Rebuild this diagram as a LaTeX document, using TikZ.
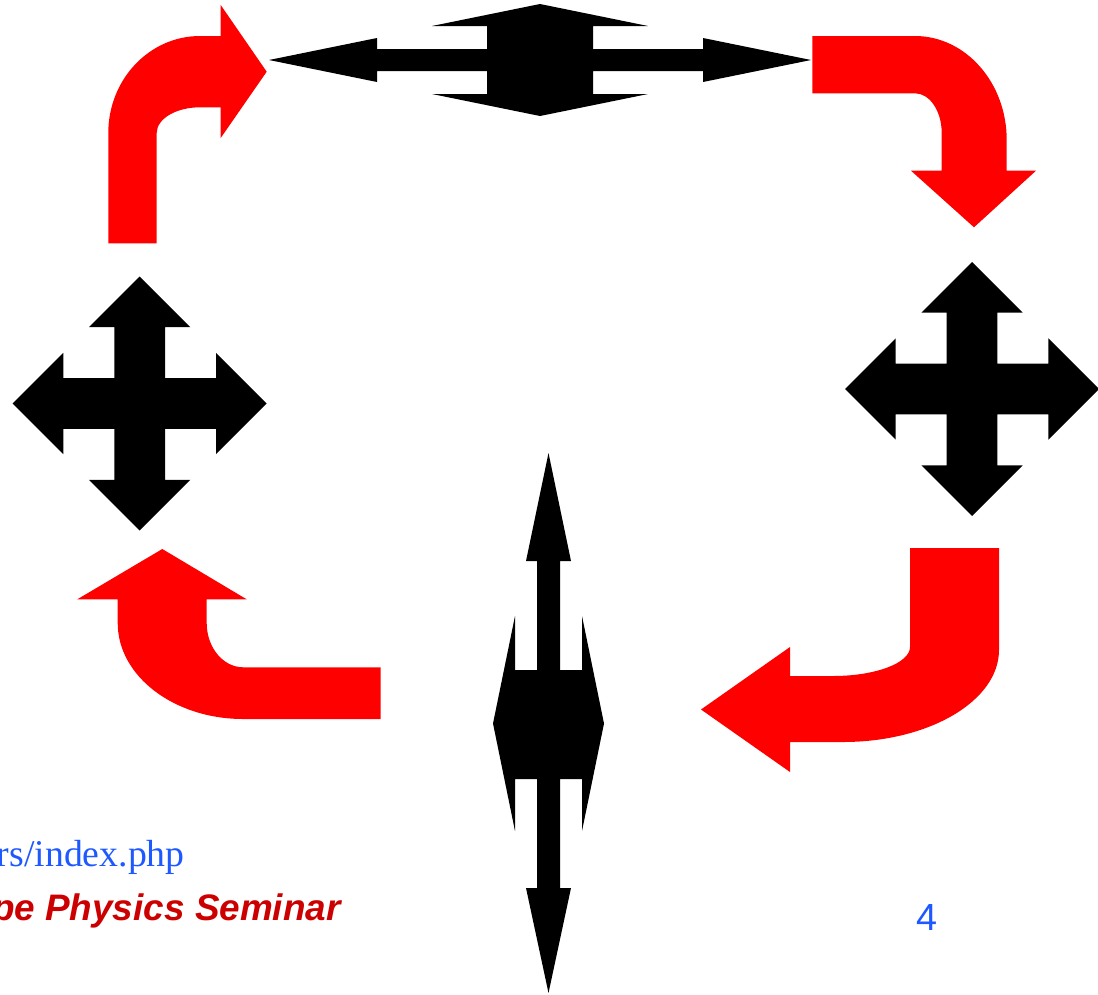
\documentclass[tikz,border=0pt]{standalone}
\usepackage{fontspec}
\setmainfont{Liberation Serif}
\setsansfont{Liberation Sans}
\definecolor{arrowred}{RGB}{255,0,0}
\definecolor{textred}{RGB}{204,0,0}
\definecolor{textblue}{RGB}{30,88,255}
\tikzset{
  redarrow/.style={fill=arrowred, draw=none},
  blackarrow/.style={fill=black, draw=none},
  fourway/.pic={
    \fill[black] (0,-127) -- (50.7,-76.3) -- (25.3,-76.3) -- (25.3,-25.3) -- (76.3,-25.3) -- (76.3,-50.7)
      -- (127,0) -- (76.3,50.7) -- (76.3,25.3) -- (25.3,25.3) -- (25.3,76.3) -- (50.7,76.3)
      -- (0,127) -- (-50.7,76.3) -- (-25.3,76.3) -- (-25.3,25.3) -- (-76.3,25.3) -- (-76.3,50.7)
      -- (-127,0) -- (-76.3,-50.7) -- (-76.3,-25.3) -- (-25.3,-25.3) -- (-25.3,-76.3) -- (-50.7,-76.3) -- cycle;
  },
  txt/.style={inner sep=0pt}
}
\begin{document}
\begin{tikzpicture}[x=0.02cm, y=-0.02cm]
\useasboundingbox (0,0) rectangle (1098,994);
\clip (0,0) rectangle (1098,994);

% top horizontal double arrow
\fill[blackarrow] (269,60) -- (377,38) -- (377,49) -- (487,49) -- (487,26) -- (432,26) -- (540,4)
  -- (648,26) -- (593,26) -- (593,49) -- (703,49) -- (703,38) -- (811,60) -- (703,82) -- (703,71)
  -- (593,71) -- (593,94) -- (648,94) -- (540,116) -- (432,94) -- (487,94) -- (487,71) -- (377,71)
  -- (377,82) -- cycle;

% bottom vertical double arrow
\fill[blackarrow] (548.5,453) -- (571,561) -- (560,561) -- (560,670) -- (582,670) -- (582,616)
  -- (604,723.5) -- (582,831) -- (582,779) -- (560,779) -- (560,888) -- (571,888) -- (548.5,993)
  -- (526,888) -- (537,888) -- (537,779) -- (515,779) -- (515,831) -- (493,723.5) -- (515,616)
  -- (515,670) -- (537,670) -- (537,561) -- (526,561) -- cycle;

% four-way crosses
\pic at (139.7,403.5) {fourway};
\pic at (972,389) {fourway};

% top-left bent arrow
\fill[redarrow] (108.3,243.3) -- (108.3,133) .. controls (108.3,79.4) and (149.4,36) .. (200,36)
  -- (220.7,36) -- (220.7,5) -- (266.7,71.7) -- (220.7,138) -- (220.7,107.3) -- (200,107.3)
  .. controls (176.1,107.3) and (156.7,118.8) .. (156.7,133) -- (156.7,243.3) -- cycle;

% top-right bent arrow
\fill[redarrow] (812.3,36) -- (915,36) .. controls (965.6,36) and (1006.7,82.6) .. (1006.7,140)
  -- (1006.7,170.7) -- (1036,170.7) -- (974,227.3) -- (911,170.7) -- (941.7,170.7) -- (941.7,133)
  .. controls (941.7,111.1) and (929.7,93.3) .. (915,93.3) -- (812.3,93.3) -- cycle;

% bottom-right bent arrow
\fill[redarrow] (910,548) -- (999,548) -- (999,650) .. controls (999,700.8) and (929.2,742) .. (843,742)
  -- (790,742) -- (790,772) -- (701,709.5) -- (790,647) -- (790,676) -- (833,676)
  .. controls (875.5,676) and (910,663) .. (910,647) -- cycle;

% bottom-left bent arrow
\fill[redarrow] (380.7,667.3) -- (243.3,667.3) .. controls (223.1,667.3) and (206.7,647.5) .. (206.7,623)
  -- (206.7,599.3) -- (246.7,599.3) -- (162.3,549) -- (77.3,599.3) -- (117.7,599.3) -- (117.7,623)
  .. controls (117.7,676) and (173.9,719) .. (243.3,719) -- (380.7,719) -- cycle;

% footer texts
\node[txt, anchor=base east, text=textblue, font=\fontsize{21.5}{25}\selectfont] (url) at (185,866) {rs/index.php};
\node[txt, anchor=base east, text=textred, font=\fontsize{21}{25}\selectfont] (seminar) at (341,920) {\sffamily\bfseries\itshape pe Physics Seminar};
\node[txt, anchor=base, text=textblue, font=\fontsize{21.5}{25}\selectfont] (pagenum) at (926.5,930) {\sffamily 4};
\end{tikzpicture}
\end{document}
